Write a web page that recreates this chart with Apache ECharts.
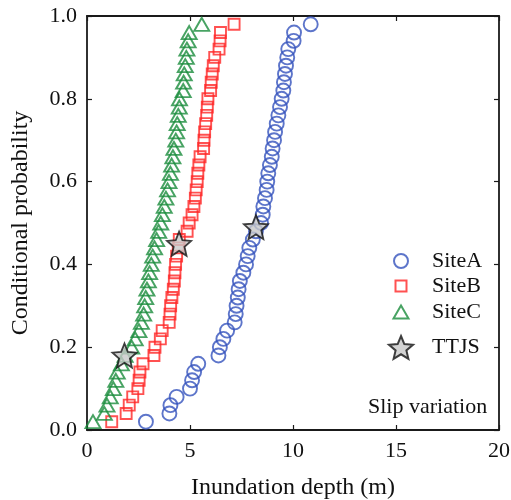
<!DOCTYPE html>
<html>
<head>
<meta charset="utf-8">
<script src="https://cdn.jsdelivr.net/npm/echarts@6/dist/echarts.min.js"></script>
<style>
  html, body { margin: 0; padding: 0; background: #fff; }
  #chart { width: 511px; height: 500px; }
</style>
</head>
<body>
<div id="chart"></div>
<script>
// Conditional probability levels shared by every site (rank / 50)
const probability = [
  0.02, 0.04, 0.06, 0.08, 0.10, 0.12, 0.14, 0.16, 0.18, 0.20,
  0.22, 0.24, 0.26, 0.28, 0.30, 0.32, 0.34, 0.36, 0.38, 0.40,
  0.42, 0.44, 0.46, 0.48, 0.50, 0.52, 0.54, 0.56, 0.58, 0.60,
  0.62, 0.64, 0.66, 0.68, 0.70, 0.72, 0.74, 0.76, 0.78, 0.80,
  0.82, 0.84, 0.86, 0.88, 0.90, 0.92, 0.94, 0.96, 0.98
];

// Inundation depth (m), sorted, one value per probability level
const siteA = [
  2.86, 4.00, 4.05, 4.35, 5.00, 5.10, 5.20, 5.40, 6.38, 6.45,
  6.62, 6.80, 7.17, 7.22, 7.26, 7.32, 7.36, 7.42, 7.59, 7.72,
  7.80, 7.88, 8.05, 8.20, 8.45, 8.53, 8.56, 8.64, 8.72, 8.75,
  8.80, 8.88, 8.97, 9.01, 9.08, 9.13, 9.21, 9.29, 9.37, 9.45,
  9.53, 9.56, 9.61, 9.66, 9.72, 9.77, 10.03, 10.05, 10.86
];
const siteB = [
  1.20, 1.90, 2.05, 2.22, 2.47, 2.53, 2.57, 2.72, 3.25, 3.30,
  3.56, 3.65, 3.99, 4.03, 4.06, 4.12, 4.19, 4.24, 4.27, 4.30,
  4.35, 4.43, 4.48, 4.86, 4.96, 5.10, 5.19, 5.26, 5.30, 5.35,
  5.38, 5.43, 5.49, 5.66, 5.68, 5.71, 5.76, 5.81, 5.84, 5.87,
  6.00, 6.03, 6.08, 6.13, 6.20, 6.41, 6.46, 6.48, 7.14
];
const siteC = [
  0.29, 0.84, 0.97, 1.13, 1.28, 1.40, 1.47, 1.67, 1.85, 2.17,
  2.34, 2.52, 2.64, 2.75, 2.80, 2.85, 2.91, 2.98, 3.04, 3.12,
  3.19, 3.28, 3.38, 3.48, 3.58, 3.66, 3.75, 3.83, 3.91, 3.98,
  4.05, 4.11, 4.17, 4.22, 4.31, 4.35, 4.38, 4.43, 4.48, 4.49,
  4.67, 4.69, 4.72, 4.77, 4.82, 4.85, 4.91, 4.96, 5.57
];

// TTJS reference scenario (depth, probability) at each site
const ttjsDepth = [1.82, 4.47, 8.20];
const ttjsProb = [0.18, 0.45, 0.49];

// Axis ticks
const xTicks = [0, 5, 10, 15, 20];
const yTicks = [0.0, 0.2, 0.4, 0.6, 0.8, 1.0];

const FONT = 'Liberation Serif';
const AXIS_COLOR = '#1a1a1a';
const COLOR_A = '#3453bd';
const COLOR_B = '#ff2525';
const COLOR_C = '#1a8c3c';

// five-pointed star outline as an SVG path
function starPath(inner) {
  const pts = [];
  for (let i = 0; i < 10; i++) {
    const r = i % 2 === 0 ? 1 : inner;
    const a = -Math.PI / 2 + i * Math.PI / 5;
    pts.push((r * Math.cos(a)).toFixed(4) + ',' + (r * Math.sin(a)).toFixed(4));
  }
  return 'path://M' + pts.join('L') + 'Z';
}
const STAR = starPath(0.45);

const pairs = (xs, ys) => xs.map((x, i) => [x, ys[i]]);

const baseAxis = {
  axisLine: { show: true, onZero: false, lineStyle: { color: AXIS_COLOR, width: 1.8 } },
  axisTick: { show: true, inside: true, length: 5, lineStyle: { color: AXIS_COLOR, width: 1.2 } },
  splitLine: { show: false }
};

function legendFor(name, left, top, w, h, pad) {
  return {
    data: [name],
    left: left, top: top,
    itemWidth: w, itemHeight: h,
    selectedMode: false,
    padding: 0,
    textStyle: { fontFamily: FONT, fontSize: 22, color: '#111', padding: [0, 0, 0, pad] }
  };
}

const chart = echarts.init(document.getElementById('chart'), null, { renderer: 'canvas' });
chart.setOption({
  animation: false,
  backgroundColor: '#fff',
  grid: { left: 87, right: 12, top: 16, bottom: 70, containLabel: false, outerBoundsMode: 'none' },
  title: {
    text: 'Slip variation',
    left: 363, top: 391,
    textStyle: { fontFamily: FONT, fontSize: 22, fontWeight: 'normal', color: '#111' }
  },
  legend: [
    legendFor('SiteA', 393, 250, 14, 14, 19),
    legendFor('SiteB', 394.5, 275, 11, 11, 20.5),
    legendFor('SiteC', 392.5, 301, 15, 13, 18.5),
    legendFor('TTJS', 388, 335, 24, 24, 14)
  ],
  xAxis: [
    Object.assign({}, baseAxis, {
      type: 'value', position: 'bottom', min: xTicks[0], max: xTicks[xTicks.length - 1], interval: 5,
      name: 'Inundation depth (m)', nameLocation: 'middle', nameGap: 46,
      nameTextStyle: { fontFamily: FONT, fontSize: 24, color: '#111' },
      axisLabel: { show: true, margin: 10, fontFamily: FONT, fontSize: 22, color: '#111' }
    }),
    Object.assign({}, baseAxis, {
      type: 'value', position: 'top', min: xTicks[0], max: xTicks[xTicks.length - 1], interval: 5,
      axisLabel: { show: false }
    })
  ],
  yAxis: [
    Object.assign({}, baseAxis, {
      type: 'value', position: 'left', min: yTicks[0], max: yTicks[yTicks.length - 1], interval: 0.2,
      name: 'Conditional probability', nameLocation: 'middle', nameGap: 54,
      nameTextStyle: { fontFamily: FONT, fontSize: 24, color: '#111' },
      axisLabel: {
        show: true, margin: 10, fontFamily: FONT, fontSize: 22, color: '#111',
        formatter: v => v.toFixed(1)
      }
    }),
    Object.assign({}, baseAxis, {
      type: 'value', position: 'right', min: yTicks[0], max: yTicks[yTicks.length - 1], interval: 0.2,
      axisLabel: { show: false }
    })
  ],
  series: [
    {
      name: 'SiteA', type: 'scatter', symbol: 'circle', symbolSize: 14,
      itemStyle: { color: 'rgba(255,255,255,0)', borderColor: COLOR_A, borderWidth: 1.9 },
      data: pairs(siteA, probability), z: 2
    },
    {
      name: 'SiteB', type: 'scatter', symbol: 'rect', symbolSize: 11,
      itemStyle: { color: 'rgba(255,255,255,0)', borderColor: COLOR_B, borderWidth: 1.9 },
      data: pairs(siteB, probability), z: 2
    },
    {
      name: 'SiteC', type: 'scatter', symbol: 'triangle', symbolSize: [15, 13],
      itemStyle: { color: 'rgba(255,255,255,0)', borderColor: COLOR_C, borderWidth: 1.9 },
      data: pairs(siteC, probability), z: 2
    },
    {
      name: 'TTJS', type: 'scatter', symbol: STAR, symbolSize: 24,
      itemStyle: { color: '#c8c8c8', borderColor: '#111', borderWidth: 1.8 },
      data: pairs(ttjsDepth, ttjsProb), z: 5
    }
  ]
});
</script>
</body>
</html>
